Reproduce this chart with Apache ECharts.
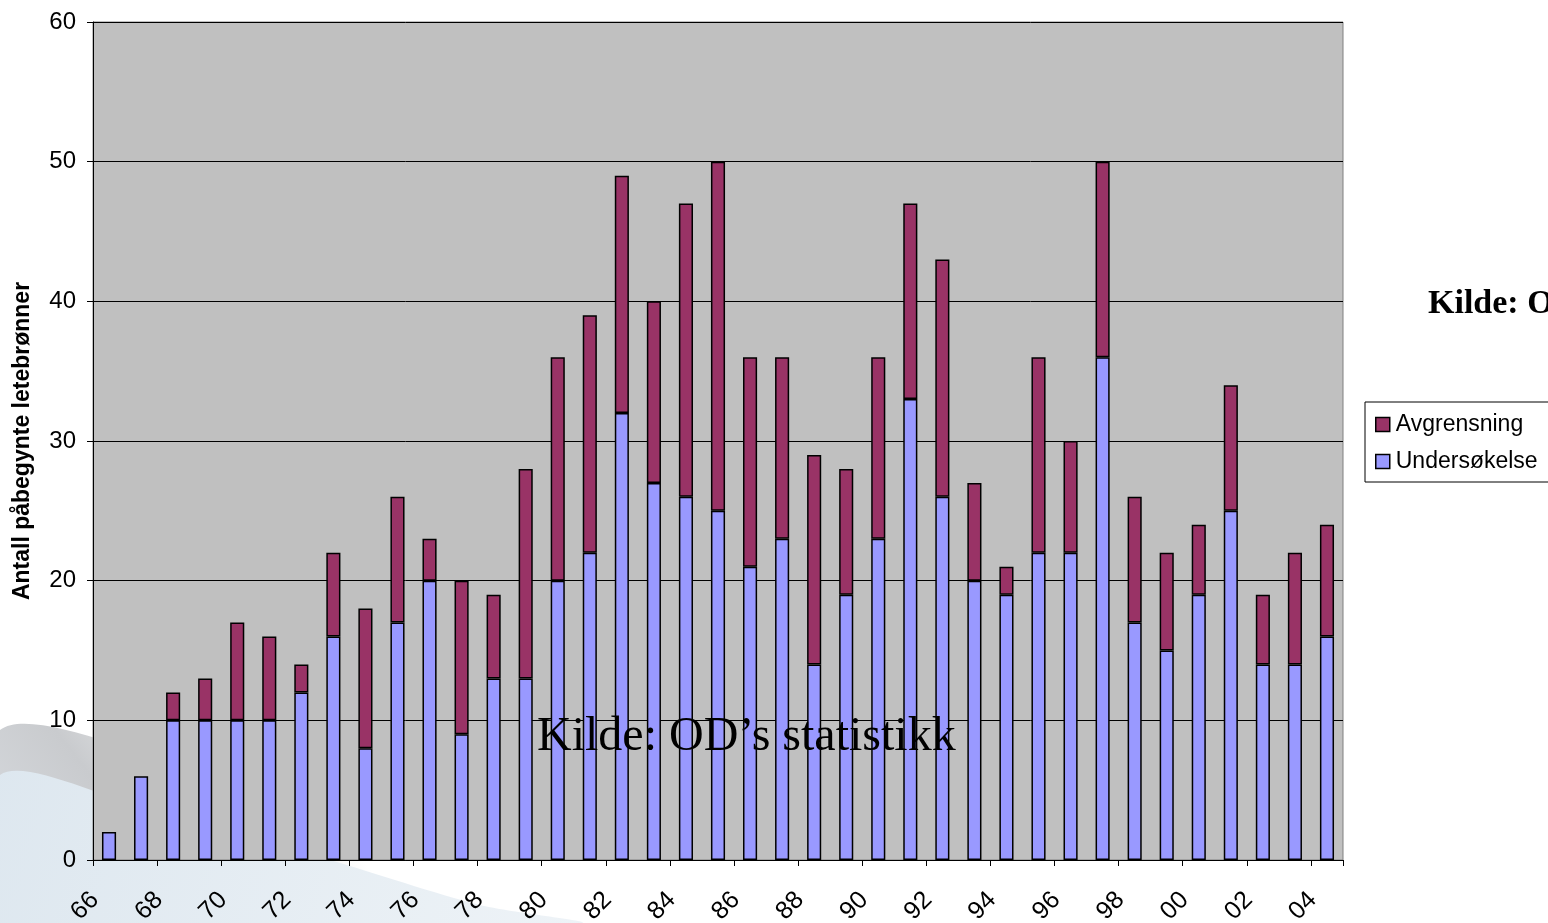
<!DOCTYPE html>
<html>
<head>
<meta charset="utf-8">
<script src="https://cdn.jsdelivr.net/npm/echarts@6/dist/echarts.min.js"></script>
<style>
  html, body { margin: 0; padding: 0; background: #fff; }
  #main { width: 1548px; height: 923px; }
</style>
</head>
<body>
<div id="main"></div>
<script>
const years = ['66','67','68','69','70','71','72','73','74','75','76','77','78','79',
  '80','81','82','83','84','85','86','87','88','89','90','91','92','93','94','95',
  '96','97','98','99','00','01','02','03','04']
// Undersøkelse (lower part)
const undersokelse = [2,6,10,10,10,10,12,16,8,17,20,9,13,13,
  20,22,32,27,26,25,21,23,14,19,23,33,26,20,19,22,
  22,36,17,15,19,25,14,14,16]
// Avgrensning (upper part)
const avgrensning = [0,0,2,3,7,6,2,6,10,9,3,11,6,15,
  16,17,17,13,21,25,15,13,15,9,13,14,17,7,2,14,
  8,14,9,7,5,9,5,8,8]

const chart = echarts.init(document.getElementById('main'))

const option = {
  animation: false,
  textStyle: { fontFamily: 'Liberation Sans, Arial, sans-serif' },
  graphic: [
    // decorative swoosh bottom-left: shadow band
    {
      type: 'polygon',
      z: -11,
      shape: {
        points: [[0, 730], [200, 770], [450, 830], [700, 890], [920, 923], [0, 923]],
        smooth: 0.3
      },
      style: {
        fill: new echarts.graphic.LinearGradient(0.3, 0, 0, 1, [
          { offset: 0, color: '#ffffff' },
          { offset: 0.45, color: '#c9cbce' },
          { offset: 1, color: '#dfe3e8' }
        ])
      }
    },
    // decorative swoosh bottom-left: pale blue area
    {
      type: 'polygon',
      z: -10,
      shape: {
        points: [[0, 775], [150, 810], [330, 860], [480, 905], [580, 923], [0, 923]],
        smooth: 0.3
      },
      style: {
        fill: new echarts.graphic.LinearGradient(0, 0, 1, 1, [
          { offset: 0, color: '#dde7ef' },
          { offset: 1, color: '#eef3f7' }
        ])
      }
    },
    {
      type: 'text',
      left: 537,
      top: 713,
      z: 100,
      style: {
        text: 'Kilde: OD\u2019s statistikk',
        font: '48px "Liberation Serif", "Times New Roman", serif',
        fill: '#000'
      }
    },
    {
      type: 'text',
      left: 1428,
      top: 287,
      z: 100,
      style: {
        text: 'Kilde: OD\u2019s statistikk',
        font: 'bold 34px "Liberation Serif", "Times New Roman", serif',
        fill: '#000'
      }
    },
    {
      type: 'rect',
      z: 90,
      shape: { x: 1365, y: 402, width: 200, height: 80 },
      style: { fill: '#fff', stroke: '#000', lineWidth: 1 }
    }
  ],
  legend: {
    left: 1370,
    top: 408,
    orient: 'vertical',
    z: 95,
    icon: 'rect',
    itemWidth: 14,
    itemHeight: 14,
    itemGap: 14,
    data: ['Avgrensning', 'Undersøkelse'],
    itemStyle: { borderColor: '#000', borderWidth: 1.5 },
    textStyle: { fontSize: 23, color: '#000', padding: [0, 0, 0, 1] }
  },
  grid: {
    left: 93,
    right: 205,
    top: 22,
    bottom: 63,
    outerBoundsMode: 'none',
    show: true,
    backgroundColor: '#c0c0c0',
    borderColor: '#808080',
    borderWidth: 1
  },
  xAxis: {
    type: 'category',
    data: years,
    axisLine: { lineStyle: { color: '#000', width: 1 } },
    axisTick: { show: true, length: 6, lineStyle: { color: '#000' } },
    axisLabel: {
      interval: 1,
      rotate: 45,
      margin: 22,
      fontSize: 24,
      color: '#000',
      formatter: v => '{a|' + v + '}',
      rich: { a: { fontSize: 25, color: '#000', padding: [0, 20, 0, 0] } }
    }
  },
  yAxis: {
    type: 'value',
    min: 0,
    max: 60,
    interval: 10,
    name: 'Antall påbegynte letebrønner',
    nameLocation: 'middle',
    nameGap: 59,
    nameTextStyle: { fontSize: 23, fontWeight: 'bold', color: '#000' },
    axisLine: { show: true, lineStyle: { color: '#000', width: 1 } },
    axisTick: { show: true, length: 6, lineStyle: { color: '#000' } },
    axisLabel: { fontSize: 24, color: '#000', margin: 17 },
    splitLine: { show: true, lineStyle: { color: '#000', width: 1 } }
  },
  series: [
    {
      name: 'Undersøkelse',
      type: 'bar',
      stack: 'total',
      barWidth: '44%',
      data: undersokelse,
      itemStyle: { color: '#9999ff', borderColor: '#000', borderWidth: 1.5 }
    },
    {
      name: 'Avgrensning',
      type: 'bar',
      stack: 'total',
      barWidth: '44%',
      data: avgrensning.map(v => (v === 0 ? null : v)),
      itemStyle: { color: '#993366', borderColor: '#000', borderWidth: 1.5 }
    }
  ]
}

option && chart.setOption(option)
</script>
</body>
</html>
